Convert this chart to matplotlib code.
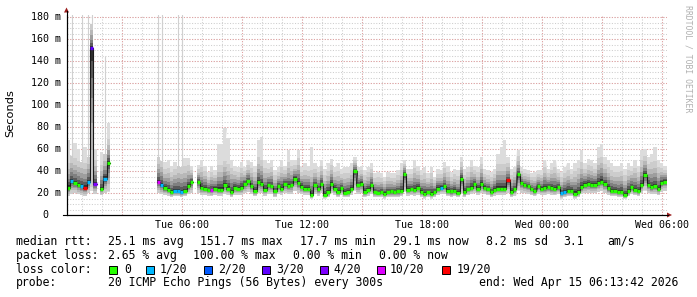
import numpy as np
import matplotlib
matplotlib.use("Agg")
import matplotlib.pyplot as plt
from matplotlib.patches import Rectangle, Polygon
from matplotlib.lines import Line2D
from matplotlib.transforms import blended_transform_factory

nan = np.nan

# ---------------- data (10-minute consolidated samples) ----------------
median_ms = [
    25, 31, 29, 27, 26, 25, 30, 151.7, 28, nan, 23.5, 33, 47,
    nan, nan, nan, nan, nan, nan, nan, nan, nan, nan, nan, nan, nan, nan,
    30, 27, 24.6, 23, 21, 22, 22, 21, 22, 26, 30,
    nan,
    30, 25, 24, 23, 22.5, 24, 23, 23, 27, 24, 21, 25, 24, 25, 28, 31, 26, 22, 30, 28,
    23, 27, 26, 21.6, 26, 24, 28, 26, 27, 33, 29,
    25.8, 24, 24, 18.2, 27, 23.5, 28, 18.5, 21, 28, 24, 21, 24.5, 20, 21, 24, 40, 27,
    28.5, 21, 23, 27, 21, 20, 21, 19.5, 21, 21.5, 20.5, 21.5, 22, 37.5, 23, 23.5, 23, 25,
    21, 19.5, 21, 19.5, 21, 24, 25, 26, 22, 21.5, 22, 20, 33, 21, 23.4, 25, 28, 24,
    28, 25, 23.4, 21, 23, 24, 24, 24, 31.5, 21, 23.4, 37, 29, 27, 26, 23.5, 22, 26,
    24, 24.6, 25.5, 24.6, 23.5, 25.5, 20, 21, 22, 22, 19.5, 21, 25.5, 27.5, 28.3, 27.5,
    27.5, 29, 30.5, 28.3, 24.6, 22, 22, 21, 21, 18.2, 22, 25.5, 23, 22, 27.5, 36.5,
    27.5, 25.5, 26.5, 23.5, 29.5, 30.5,
]

ping_max = [
    68, 250, 66, 60, 250, 62, 250, 250, 60, nan, 57, 145, 84,
    nan, nan, nan, nan, nan, nan, nan, nan, nan, nan, nan, nan, nan, nan,
    250, 250, 48, 50, 45, 48, 250, 250, 52, 52, 45,
    nan,
    45.5, 50, 45, 39, 45, 41, 65, 65, 79, 70, 50, 45, 44, 48.5, 44, 50, 48, 45, 68, 71,
    50, 47, 50, 41, 44, 50, 45, 59, 50, 50, 59,
    44, 47, 45, 62, 47, 44, 50, 42, 47, 51, 44, 47, 42, 44, 44, 47, 53, 44,
    45, 41, 44, 47, 38, 39, 38, 35, 39, 38, 38, 41, 47, 50, 42, 42, 50, 45,
    41, 44, 38, 44, 35, 42, 41, 48, 45, 39, 42, 41, 53, 42, 44, 50, 45, 44,
    53, 42, 41, 39, 42, 56, 62, 68, 53, 42, 44, 59, 44, 42, 41, 38, 39, 41,
    41, 50, 42, 47, 50, 42, 39, 44, 47, 42, 47, 50, 59, 47, 51, 50,
    47, 62, 65, 53, 50, 47, 45, 45, 47, 42, 47, 45, 50, 45, 59, 60,
    53, 56, 62, 50, 47, 45,
]

ping_min = [
    17, 19, 20, 19, 18, 17, 20, 22, 19, nan, 18, 20, 21,
    nan, nan, nan, nan, nan, nan, nan, nan, nan, nan, nan, nan, nan, nan,
    20, 19, 18, 17, 16, 17, 17, 16, 17, 19, 20,
    nan,
    20, 18, 18, 17, 17, 18, 17, 17, 19, 18, 16, 18, 18, 18, 20, 21, 19, 17, 20, 20,
    17, 19, 19, 16, 19, 18, 20, 19, 19, 22, 20,
    19, 18, 18, 15, 19, 17, 20, 15, 16, 20, 18, 16, 18, 16, 16, 18, 22, 19,
    20, 16, 17, 19, 16, 16, 16, 15, 16, 16, 16, 16, 17, 21, 17, 18, 17, 18,
    16, 15, 16, 15, 16, 18, 19, 19, 17, 16, 17, 16, 20, 16, 18, 19, 20, 18,
    20, 19, 18, 16, 17, 18, 18, 18, 20, 16, 17, 22, 20, 20, 19, 18, 17, 19,
    18, 18, 19, 18, 18, 19, 15, 16, 17, 17, 15, 16, 19, 20, 20, 20,
    20, 21, 22, 20, 18, 17, 17, 16, 16, 15, 17, 19, 18, 17, 20, 22,
    20, 19, 19, 18, 21, 22,
]

# lost pings (out of 20) per sample
loss_20 = [
    0, 1, 0, 0, 1, 19, 1, 3, 4, 0, 0, 1, 0,
    0, 0, 0, 0, 0, 0, 0, 0, 0, 0, 0, 0, 0, 0,
    10, 1, 0, 0, 0, 1, 1, 1, 0, 0, 0,
    0,
    0, 0, 0, 0, 10, 0, 0, 0, 0, 0, 0, 0, 0, 0, 0, 0, 0, 0, 0, 0,
    0, 0, 0, 0, 0, 0, 0, 0, 0, 0, 0,
    0, 0, 0, 0, 0, 0, 0, 0, 0, 0, 0, 0, 0, 0, 0, 0, 0, 0,
    0, 0, 0, 0, 0, 0, 0, 0, 0, 0, 0, 0, 0, 0, 0, 0, 0, 0,
    0, 0, 0, 0, 0, 0, 1, 0, 0, 0, 0, 0, 0, 0, 0, 0, 0, 0,
    0, 0, 0, 0, 0, 0, 0, 0, 19, 0, 0, 0, 0, 0, 0, 0, 0, 0,
    0, 0, 0, 0, 0, 0, 1, 1, 0, 0, 0, 0, 0, 0, 0, 0,
    0, 0, 0, 0, 0, 0, 0, 0, 0, 0, 0, 0, 0, 0, 0, 0,
    0, 0, 0, 0, 0, 0,
]

loss_levels = [0, 1, 2, 3, 4, 10, 19]
loss_labels = ["0", "1/20", "2/20", "3/20", "4/20", "10/20", "19/20"]
loss_colors = ["#26ff00", "#00b8ff", "#0059ff", "#5e00ff", "#7e00ff", "#dd00ff", "#ff0000"]

x_tick_hours = [6, 12, 18, 24, 30]
x_tick_labels = ["Tue 06:00", "Tue 12:00", "Tue 18:00", "Wed 00:00", "Wed 06:00"]
y_ticks = [0, 20, 40, 60, 80, 100, 120, 140, 160, 180]
y_tick_labels = ["0", "20 m", "40 m", "60 m", "80 m", "100 m", "120 m", "140 m", "160 m", "180 m"]

START_H = 13 / 60 + 42 / 3600          # Tue 00:13:42 (hours since Tue 00:00)
SPAN_H = 30.0
STEP_H = 10 / 60

# ---------------- figure ----------------
W, H = 697, 297
fig = plt.figure(figsize=(W / 100, H / 100), dpi=100)
fig.patch.set_facecolor("white")

def fx(x):
    return x / W

def fy(y):
    return 1 - y / H

ax = fig.add_axes([fx(66.5), fy(215), 600 / W, 200 / H])
ax.set_facecolor("white")
ax.set_xlim(START_H, START_H + SPAN_H)
ax.set_ylim(0, 182.2)

med = np.array(median_ms, dtype=float)
lo = np.array(ping_min, dtype=float)
hi = np.array(ping_max, dtype=float)
t = START_H + (np.arange(len(med)) + 0.5) * STEP_H

def steps(y):
    xs = np.column_stack([t - STEP_H / 2, t + STEP_H / 2]).ravel()
    return xs, np.repeat(y, 2)

# grid
minor_grid = "#cdcdcd"
major_grid = "#e3a0a0"
for v in np.arange(5, 182, 5):
    ax.axhline(v, color=minor_grid, lw=0.75, ls=(0, (1, 1.6)), zorder=0)
for v in y_ticks[1:]:
    ax.axhline(v, color=major_grid, lw=0.75, ls=(0, (1, 1.6)), zorder=0.5)
for h in np.arange(1, 31):
    ax.axvline(h, color=minor_grid, lw=0.75, ls=(0, (1, 1.6)), zorder=0)
for h in np.arange(3, 31, 3):
    ax.axvline(h, color=major_grid, lw=0.75, ls=(0, (1, 1.6)), zorder=0.5)

# smoke: outer envelope; isolated outliers drawn as thin spikes
spk = (hi - med) > 60
body_hi = np.where(spk, np.minimum(hi, med + 22), hi)
xs, ys_lo = steps(lo)
_, ys_hi = steps(body_hi)
ax.fill_between(xs, ys_lo, ys_hi, color="#dcdcdc", lw=0, zorder=1)
ax.vlines(t[spk], body_hi[spk], hi[spk], colors="#d0d0d0", lw=0.8, zorder=1)

core = np.minimum(hi, med + 30)
shades = [(0.75, "#cccccc"), (0.55, "#b8b8b8"), (0.40, "#9e9e9e"),
          (0.27, "#808080"), (0.16, "#5a5a5a"), (0.07, "#303030")]
for f, col in shades:
    up = med + f * (core - med)
    dn = med - min(1.0, f * 1.3) * (med - lo)
    _, yu = steps(up)
    _, yd = steps(dn)
    ax.fill_between(xs, yd, yu, color=col, lw=0, zorder=2)

# median line
_, ym = steps(med)
ax.plot(xs, ym, color="#1a1a1a", lw=0.8, zorder=3)
ok = ~np.isnan(med)
cmap = dict(zip(loss_levels, loss_colors))
cols = [cmap[int(l)] for l, k in zip(loss_20, ok) if k]
ax.hlines(med[ok], t[ok] - STEP_H / 2, t[ok] + STEP_H / 2, colors=cols, lw=2.4, zorder=4)

# axes decoration
for s in ["top", "right"]:
    ax.spines[s].set_visible(False)
for s in ["left", "bottom"]:
    ax.spines[s].set_color("black")
    ax.spines[s].set_linewidth(0.8)
    ax.spines[s].set_zorder(6)

ax.set_xticks(x_tick_hours)
ax.set_xticklabels(x_tick_labels, fontfamily="DejaVu Sans Mono", fontsize=7.2)
ax.tick_params(axis="x", length=0, pad=3.5)
ax.set_yticks([])

ytrans = blended_transform_factory(fig.transFigure, ax.transData)
for v, lab in zip(y_ticks, y_tick_labels):
    xr = 60.5 if lab != "0" else 48.3
    ax.text(fx(xr), v, lab, transform=ytrans, ha="right", va="center",
            fontfamily="DejaVu Sans Mono", fontsize=7.2, clip_on=False)

# axis extensions and arrows
fig.add_artist(Line2D([fx(66.5), fx(66.5)], [fy(215), fy(11)], color="black", lw=0.8))
fig.add_artist(Line2D([fx(63), fx(668)], [fy(215), fy(215)], color="black", lw=0.8))
arrow_col = "#9a1c1c"
fig.add_artist(Polygon([(fx(64), fy(12.5)), (fx(69), fy(12.5)), (fx(66.5), fy(7.5))],
                       closed=True, color=arrow_col, lw=0))
fig.add_artist(Polygon([(fx(667), fy(212.5)), (fx(667), fy(217.5)), (fx(672), fy(215))],
                       closed=True, color=arrow_col, lw=0))

fig.text(fx(10), fy(113), "Seconds", rotation=90, ha="center", va="center",
         fontfamily="DejaVu Sans", fontsize=8.2)
fig.text(fx(688), fy(5), "RRDTOOL / TOBI OETIKER", rotation=270, ha="center", va="top",
         fontfamily="DejaVu Sans Mono", fontsize=5.9, color="#b0b0b0")

# legend / statistics
mono = dict(fontfamily="DejaVu Sans Mono", fontsize=8.3, va="center", ha="left")
line1 = [(16, "median rtt:"), (108, "25.1 ms avg"), (200, "151.7 ms max"), (300, "17.7 ms min"),
         (393, "29.1 ms now"), (486, "8.2 ms sd"), (563, "3.1"), (607, "am/s")]
line2 = [(16, "packet loss:"), (108, "2.65 % avg"), (193, "100.00 % max"),
         (293, "0.00 % min"), (379, "0.00 % now")]
line4 = [(16, "probe:"), (108, "20 ICMP Echo Pings (56 Bytes) every 300s"),
         (479, "end: Wed Apr 15 06:13:42 2026")]
for x, s in line1:
    fig.text(fx(x), fy(241.5), s, **mono)
for x, s in line2:
    fig.text(fx(x), fy(255.3), s, **mono)
fig.text(fx(16), fy(269.2), "loss color:", **mono)
for x, s in line4:
    fig.text(fx(x), fy(282.8), s, **mono)

sq_x = [108.5, 146, 203.5, 262, 319.5, 377, 442]
lab_x = [124, 160, 218, 276, 333, 390, 457]
for sx, lx, col, lab in zip(sq_x, lab_x, loss_colors, loss_labels):
    fig.add_artist(Rectangle((fx(sx), fy(273.5)), 8 / W, 8 / H, facecolor=col,
                             edgecolor="black", lw=0.7, transform=fig.transFigure))
    fig.text(fx(lx), fy(269.2), lab, **mono)

fig.savefig("out.png", dpi=100, facecolor="white")
